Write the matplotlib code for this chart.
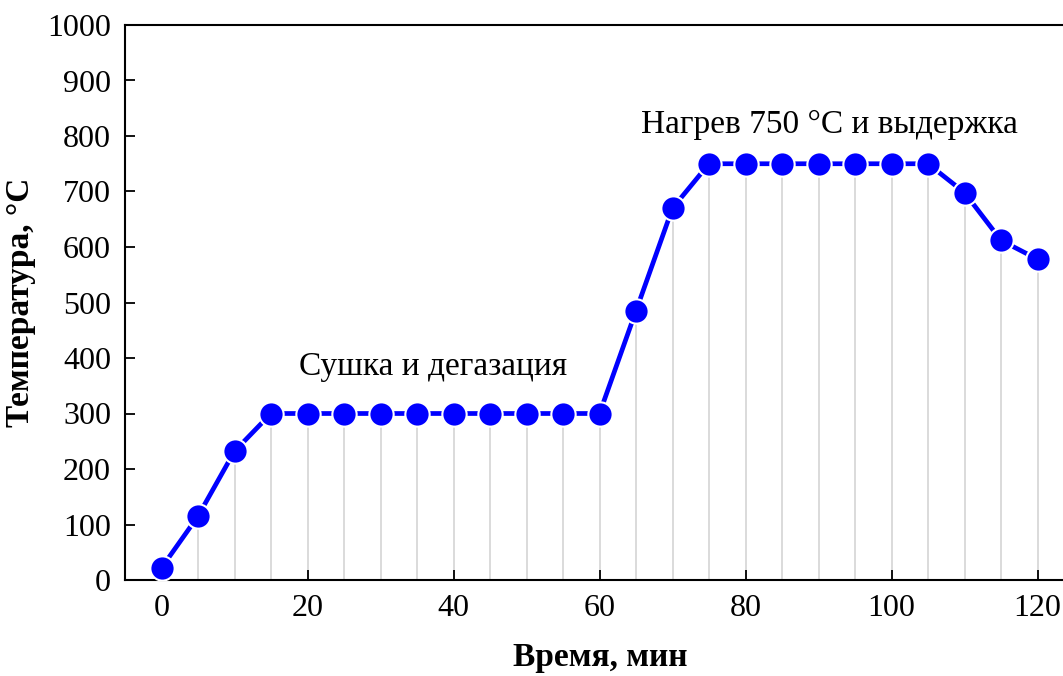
import matplotlib.pyplot as plt

# time (min) and furnace temperature (°C)
time_min = [0, 5, 10, 15, 20, 25, 30, 35, 40, 45, 50, 55, 60,
            65, 70, 75, 80, 85, 90, 95, 100, 105, 110, 115, 120]
temp_c = [22, 115, 232, 300, 300, 300, 300, 300, 300, 300, 300, 300, 300,
          485, 670, 750, 750, 750, 750, 750, 750, 750, 698, 612, 578]

stage_labels = ["Сушка и дегазация", "Нагрев 750 °C и выдержка"]
stage_pos = [(37.2, 385), (91.5, 820)]

plt.rcParams['font.family'] = ['Liberation Serif', 'DejaVu Serif']

fig = plt.figure(figsize=(10.63, 6.76), dpi=100)
ax = fig.add_axes([125 / 1063, 96 / 676, 950 / 1063, 555 / 676])

# drop lines from each point to the axis
ax.vlines(time_min, 0, temp_c, color='#d4d4d4', lw=1.2, zorder=1)
ax.plot(time_min, temp_c, color='#0000ff', lw=3.4, marker='o', ms=17.5,
        mfc='#0000ff', mec='white', mew=1.5, zorder=3)

for text, (tx, ty) in zip(stage_labels, stage_pos):
    ax.text(tx, ty, text, ha='center', va='center', fontsize=24)

ax.set_xlim(-5, -5 + 950 / 7.3)
ax.set_ylim(0, 1000)
ax.set_xticks(range(0, 121, 20))
ax.set_yticks(range(0, 1001, 100))
ax.tick_params(direction='in', length=7, width=1.3, labelsize=23, pad=10)
ax.spines['right'].set_visible(False)
for s in ['left', 'bottom', 'top']:
    ax.spines[s].set_linewidth(1.5)

ax.set_xlabel("Время, мин", fontsize=24, fontweight='bold', labelpad=14)
ax.set_ylabel("Температура, °С", fontsize=24, fontweight='bold', labelpad=8)

fig.savefig("out.png", dpi=100)
